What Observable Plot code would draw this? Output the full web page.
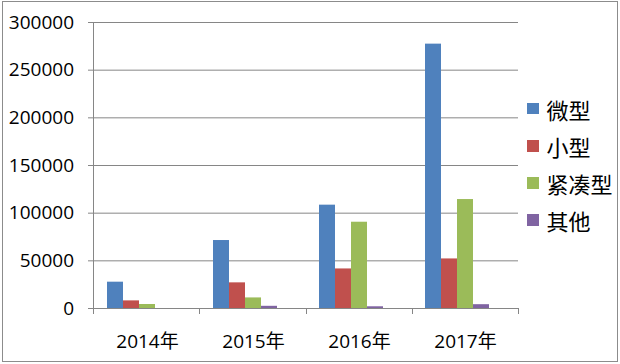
<!DOCTYPE html>
<html>
<head>
<meta charset="utf-8">
<script src="https://cdn.jsdelivr.net/npm/d3@7"></script>
<script src="https://cdn.jsdelivr.net/npm/@observablehq/plot@0.6"></script>
<style>
  html, body { margin: 0; padding: 0; background: #fff; }
  #wrap { position: relative; width: 620px; height: 364px; overflow: hidden; font-family: 'Open Sans', 'Noto Sans CJK SC', sans-serif; }
  #border { position: absolute; left: 2px; top: 1px; width: 616px; height: 361px; box-sizing: border-box; border: 1px solid #8c8c8c; pointer-events: none; }
  #legend { position: absolute; left: 527px; top: 90px; font-family: 'Noto Sans CJK SC', sans-serif; font-size: 22px; color: #000; }
  #legend .row { display: flex; align-items: center; height: 37.2px; }
  #legend .sw { width: 11.5px; height: 11.5px; margin-right: 8px; }
</style>
</head>
<body>
<div id="wrap"><div id="border"></div><div id="legend"></div></div>
<script>
const years = ["2014年", "2015年", "2016年", "2017年"];
const series = ["微型", "小型", "紧凑型", "其他"];
const micro = [27600, 71300, 108400, 277300];
const small = [8000, 26900, 41500, 52000];
const compact = [4200, 11100, 90500, 114300];
const other = [0, 2300, 1800, 4000];
const colors = ["#4F81BD", "#C0504D", "#9BBB59", "#8064A2"];
const yTicks = [0, 50000, 100000, 150000, 200000, 250000, 300000];

const valuesBySeries = [micro, small, compact, other];
const data = years.flatMap((yr, i) => series.map((s, j) => ({year: yr, series: s, value: valuesBySeries[j][i]})));

const gray = "#868686";

const chart = Plot.plot({
  width: 620,
  height: 364,
  marginLeft: 93,
  marginRight: 102,
  marginTop: 22,
  marginBottom: 56,
  style: {fontFamily: "'Open Sans', 'Noto Sans CJK SC', sans-serif", fontSize: "19px", color: "#000", background: "transparent", overflow: "visible"},
  fx: {domain: years, padding: 0, label: null},
  x: {domain: series, paddingInner: 0, paddingOuter: 1.269, align: 0.315, axis: null},
  y: {domain: [0, 300000]},
  color: {domain: series, range: colors},
  marks: [
    Plot.gridY(yTicks, {stroke: gray, strokeOpacity: 1}),
    Plot.barY(data, {fx: "year", x: "series", y: "value", fill: "series"}),
    Plot.axisY(yTicks, {tickSize: 6, tickPadding: 14.5, tickFormat: d => String(d), stroke: gray, label: null, fontSize: 19}),
    Plot.axisFx({anchor: "bottom", tickSize: 0, tickPadding: 25.5, label: null, fontSize: 19})
  ]
});

// y-axis line and category boundary ticks, positioned from Plot's own scales
const fx = chart.scale("fx");
const ys = chart.scale("y");
const [fx0, fx1] = fx.range;
const step = (fx1 - fx0) / fx.domain.length;
const yBase = ys.range[0], yTop = ys.range[1];
const g = d3.select(chart).append("g").attr("stroke", gray).attr("fill", "none");
g.append("line").attr("x1", fx0 + 0.5).attr("x2", fx0 + 0.5).attr("y1", yTop).attr("y2", yBase);
for (let i = 0; i <= fx.domain.length; i++) {
  const x = Math.round(fx0 + i * step) + 0.5;
  g.append("line").attr("x1", x).attr("x2", x).attr("y1", yBase).attr("y2", yBase + 6);
}

document.getElementById("wrap").insertBefore(chart, document.getElementById("border"));

const legend = d3.select("#legend");
series.forEach((s, i) => {
  const row = legend.append("div").attr("class", "row");
  row.append("div").attr("class", "sw").style("background", colors[i]);
  row.append("span").text(s);
});
</script>
</body>
</html>
